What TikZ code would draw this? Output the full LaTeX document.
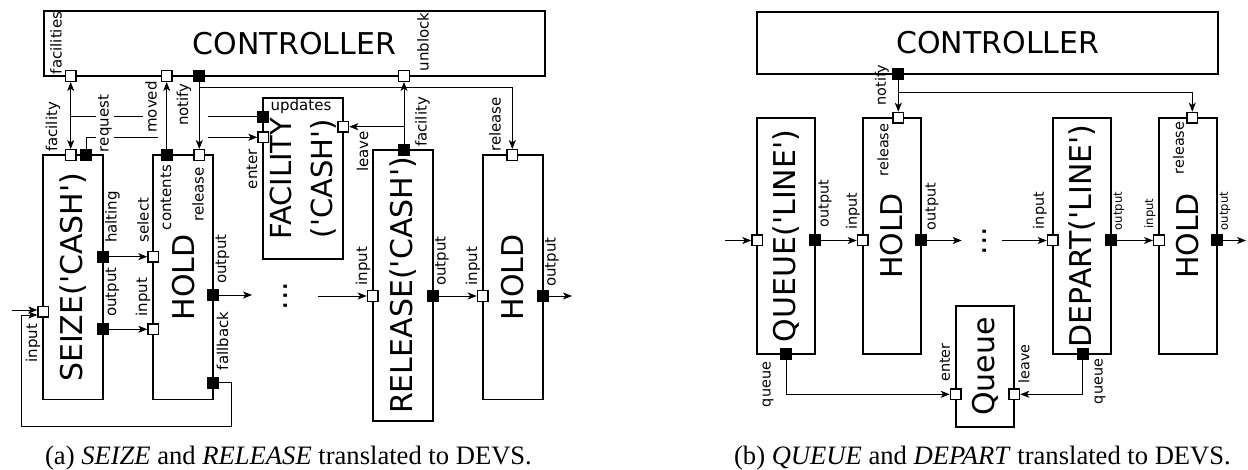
\documentclass[tikz,border=0pt]{standalone}
\usepackage{fontspec}
\setmainfont{DejaVu Sans}
\newfontfamily\capfont{Liberation Serif}
\usetikzlibrary{arrows.meta}
\newcommand{\qs}{\textquotesingle}
\tikzset{
    block/.style={draw, line width=0.9pt, inner sep=0pt,
    	font=\fontsize{15}{18}\selectfont}
}
\tikzset{
    inport/.style={draw, fill=white, line width=0.7pt, inner sep=0pt,
    	minimum size=5.3pt},
    outport/.style={inport, fill=black}
}
\tikzset{
    lab/.style={rotate=90, inner sep=0.3pt, font=\fontsize{7.5}{9}\selectfont},
    gap/.style={fill=white, inner sep=1pt},
    blab/.style={lab, font=\fontsize{7.2}{9}\selectfont},
    slab/.style={lab, font=\fontsize{5.8}{7}\selectfont},
    dots/.style={rotate=90, anchor=base, inner sep=0pt,
    	font=\fontsize{15}{18}\selectfont}
}
\pgfdeclarelayer{background}
\pgfsetlayers{background,main}

\begin{document}
\begin{tikzpicture}[x=0.5pt, y=-0.5pt, line width=0.6pt,
    >={Stealth[length=4.5pt, width=3.5pt, inset=1.2pt]}]
  \useasboundingbox (0,0) rectangle (1248,470);

  \node (ctrl) [block, minimum width=250.5pt, minimum height=32.5pt] at (294.5,43.5) {CONTROLLER};
  \node (seize) [block, rotate=90, minimum width=122.2pt, minimum height=30pt] at (73.3,277.2) {SEIZE(\qs CASH\qs)};
  \node (hold1) [block, rotate=90, minimum width=122.2pt, minimum height=30pt] at (183.3,277.2) {HOLD};
  \node (facility) [block, rotate=90, align=center, font=\fontsize{14.5}{20.5}\selectfont,
    minimum width=80.5pt, minimum height=40pt] at (303.3,178.8) {FACILITY\\(\qs CASH\qs)};
  \node (release) [block, rotate=90, minimum width=135.4pt, minimum height=30.3pt] at (403,285.4) {RELEASE(\qs CASH\qs)};
  \node (hold2) [block, rotate=90, minimum width=122.2pt, minimum height=30pt] at (512.7,277.2) {HOLD};
  \node (dotsa) [dots] at (287.4,296) {...};

  \node (facilities) [inport] at (70.7,76) {};
  \node (moved) [inport] at (166.7,76) {};
  \node (notify) [outport] at (199.3,76) {};
  \node (unblock) [inport] at (404,76) {};
  \node (seizefac) [inport] at (70.7,155) {};
  \node (seizereq) [outport] at (86,155) {};
  \node (seizein) [inport] at (43.3,311.7) {};
  \node (halting) [outport] at (103.3,256.7) {};
  \node (seizeout) [outport] at (103.3,329.3) {};
  \node (contents) [outport] at (166.7,155) {};
  \node (h1rel) [inport] at (199.3,155) {};
  \node (select) [inport] at (153.3,256.7) {};
  \node (h1in) [inport] at (153.3,329.3) {};
  \node (h1out) [outport] at (213.3,295) {};
  \node (fallback) [outport] at (213.3,382.7) {};
  \node (updates) [outport] at (263.3,116.7) {};
  \node (enter) [inport] at (263.3,137.3) {};
  \node (leave) [inport] at (343.3,126.7) {};
  \node (relfac) [outport] at (404,150) {};
  \node (relin) [inport] at (372.7,296) {};
  \node (relout) [outport] at (433.3,296) {};
  \node (h2rel) [inport] at (512.3,155) {};
  \node (h2in) [inport] at (482.7,296) {};
  \node (h2out) [outport] at (542.7,296) {};

  \node (lfacs) [lab] at (56,43) {facilities};
  \node (lunblock) [lab] at (423,42) {unblock};
  \node (lfac) [lab] at (53,127) {facility};
  \node (lreq) [lab, gap] at (105,123.5) {request};
  \node (lmoved) [lab, gap] at (151,107) {moved};
  \node (lnotify) [lab] at (184,104.5) {notify};
  \node (lhalt) [lab] at (112.5,217) {halting};
  \node (lsout) [lab] at (112.5,292) {output};
  \node (lsin) [lab] at (33,343) {input};
  \node (lselect) [lab] at (143,220) {select};
  \node (lh1in) [lab] at (143,297) {input};
  \node (lcont) [lab] at (166,197.5) {contents};
  \node (lh1rel) [lab] at (198,194.5) {release};
  \node (lh1out) [lab] at (222.5,259) {output};
  \node (lfall) [lab] at (222.5,341) {fallback};
  \node (lupd) [inner sep=0.3pt, font=\fontsize{7.5}{9}\selectfont] at (301,106) {updates};
  \node (lenter) [lab] at (252,169) {enter};
  \node (lleave) [lab] at (362.5,151.5) {leave};
  \node (lrfac) [lab] at (422.5,122) {facility};
  \node (lrin) [lab] at (363,266) {input};
  \node (lrout) [lab] at (442,261) {output};
  \node (lh2rel) [lab] at (495,124.5) {release};
  \node (lh2in) [lab] at (473,266) {input};
  \node (lh2out) [lab] at (552,262) {output};

  \coordinate (nbranch) at (199.3,87.3);
  \coordinate (lbranch) at (404,126.7);
  \coordinate (ina) at (11.7,310);
  \coordinate (loopa) at (231.7,426.7);
  \coordinate (loopb) at (21.7,315);
  \coordinate (outa) at (252,295);
  \coordinate (inb) at (318,296);
  \coordinate (outb) at (572,296);

  \node (ctrlb) [block, minimum width=230.5pt, minimum height=31.2pt] at (987.8,42.9) {\hspace*{10pt}CONTROLLER};
  \node (queue) [block, rotate=90, minimum width=118.2pt, minimum height=29pt] at (786.3,235.9) {QUEUE(\qs LINE\qs)};
  \node (hold3) [block, rotate=90, minimum width=118.2pt, minimum height=29.2pt] at (891.9,235.9) {HOLD};
  \node (depart) [block, rotate=90, minimum width=118.2pt, minimum height=29.2pt] at (1081.9,235.9) {DEPART(\qs LINE\qs)};
  \node (hold4) [block, rotate=90, minimum width=118.2pt, minimum height=28.9pt] at (1187.9,235.9) {HOLD};
  \node (qbox) [block, rotate=90, minimum width=60.4pt, minimum height=29.3pt] at (985,366.4) {Queue};
  \node (dotsb) [dots] at (986,241) {...};

  \node (notifyb) [outport] at (898.3,74) {};
  \node (qin) [inport] at (757.3,240.5) {};
  \node (qout) [outport] at (815.3,240.5) {};
  \node (qqueue) [outport] at (786,354) {};
  \node (h3rel) [inport] at (898.3,117.7) {};
  \node (h3in) [inport] at (862.7,240.5) {};
  \node (h3out) [outport] at (921,240.5) {};
  \node (din) [inport] at (1052.7,240.5) {};
  \node (dout) [outport] at (1111,240.5) {};
  \node (dqueue) [outport] at (1082.7,354) {};
  \node (h4rel) [inport] at (1192.3,117.7) {};
  \node (h4in) [inport] at (1159,240.5) {};
  \node (h4out) [outport] at (1216.7,240.5) {};
  \node (qenter) [inport] at (955.7,394.3) {};
  \node (qleave) [inport] at (1014.3,394.3) {};

  \node (lbnotify) [blab] at (882,85) {notify};
  \node (lh3rel) [blab] at (883,150) {release};
  \node (lqout) [blab] at (825,203.5) {output};
  \node (lh3in) [blab] at (853,211) {input};
  \node (lh3out) [blab] at (932,206.5) {output};
  \node (ldin) [blab] at (1040,210.5) {input};
  \node (ldout) [slab] at (1119,211) {output};
  \node (lh4in) [slab] at (1150,213.5) {input};
  \node (lh4rel) [blab] at (1178.5,148) {release};
  \node (lh4out) [slab] at (1225,211) {output};
  \node (lqq) [blab] at (768,384.5) {queue};
  \node (lqenter) [blab] at (945,362.5) {enter};
  \node (lqleave) [blab] at (1024,364) {leave};
  \node (ldq) [blab] at (1100,381.5) {queue};

  \coordinate (nbranchb) at (898.3,92.7);
  \coordinate (inc) at (725,240.5);
  \coordinate (outc) at (961.7,240.5);
  \coordinate (ind) at (1001.7,240.5);
  \coordinate (outd) at (1246,240.5);

  \node (capa) [anchor=base, font=\capfont\fontsize{13.3}{16}\selectfont] at (288.5,464)
    {(a) \textit{SEIZE} and \textit{RELEASE} translated to DEVS.};
  \node (capb) [anchor=base, font=\capfont\fontsize{13.3}{16}\selectfont] at (982.5,464)
    {(b) \textit{QUEUE} and \textit{DEPART} translated to DEVS.};

  \begin{pgfonlayer}{background}
    \draw (updates) -- (updates -| seizefac);
    \draw[->] (seizereq) |- (enter);
    \fill[white] (158,108) rectangle (208,143);
    \draw[<->] (facilities) -- (seizefac);
    \draw[->] (contents) -- (moved);
    \draw[->] (notify) -- (h1rel);
    \draw[->] (nbranch) -| (h2rel);
    \draw[->] (relfac) -- (unblock);
    \draw[->] (lbranch) -- (leave);
    \draw[->] (halting) -- (select);
    \draw[->] (seizeout) -- (h1in);
    \draw[->] (ina) -- (seizein.west |- ina);
    \draw[->] (fallback) -| (loopa) -| (loopb) -- (seizein.west |- loopb);
    \draw[->] (h1out) -- (outa);
    \draw[->] (inb) -- (relin);
    \draw[->] (relout) -- (h2in);
    \draw[->] (h2out) -- (outb);

    \draw[->] (notifyb) -- (h3rel);
    \draw[->] (nbranchb) -| (h4rel);
    \draw[->] (inc) -- (qin);
    \draw[->] (qout) -- (h3in);
    \draw[->] (h3out) -- (outc);
    \draw[->] (ind) -- (din);
    \draw[->] (dout) -- (h4in);
    \draw[->] (h4out) -- (outd);
    \draw[->] (qqueue) |- (qenter);
    \draw[->] (dqueue) |- (qleave);
  \end{pgfonlayer}
\end{tikzpicture}
\end{document}
